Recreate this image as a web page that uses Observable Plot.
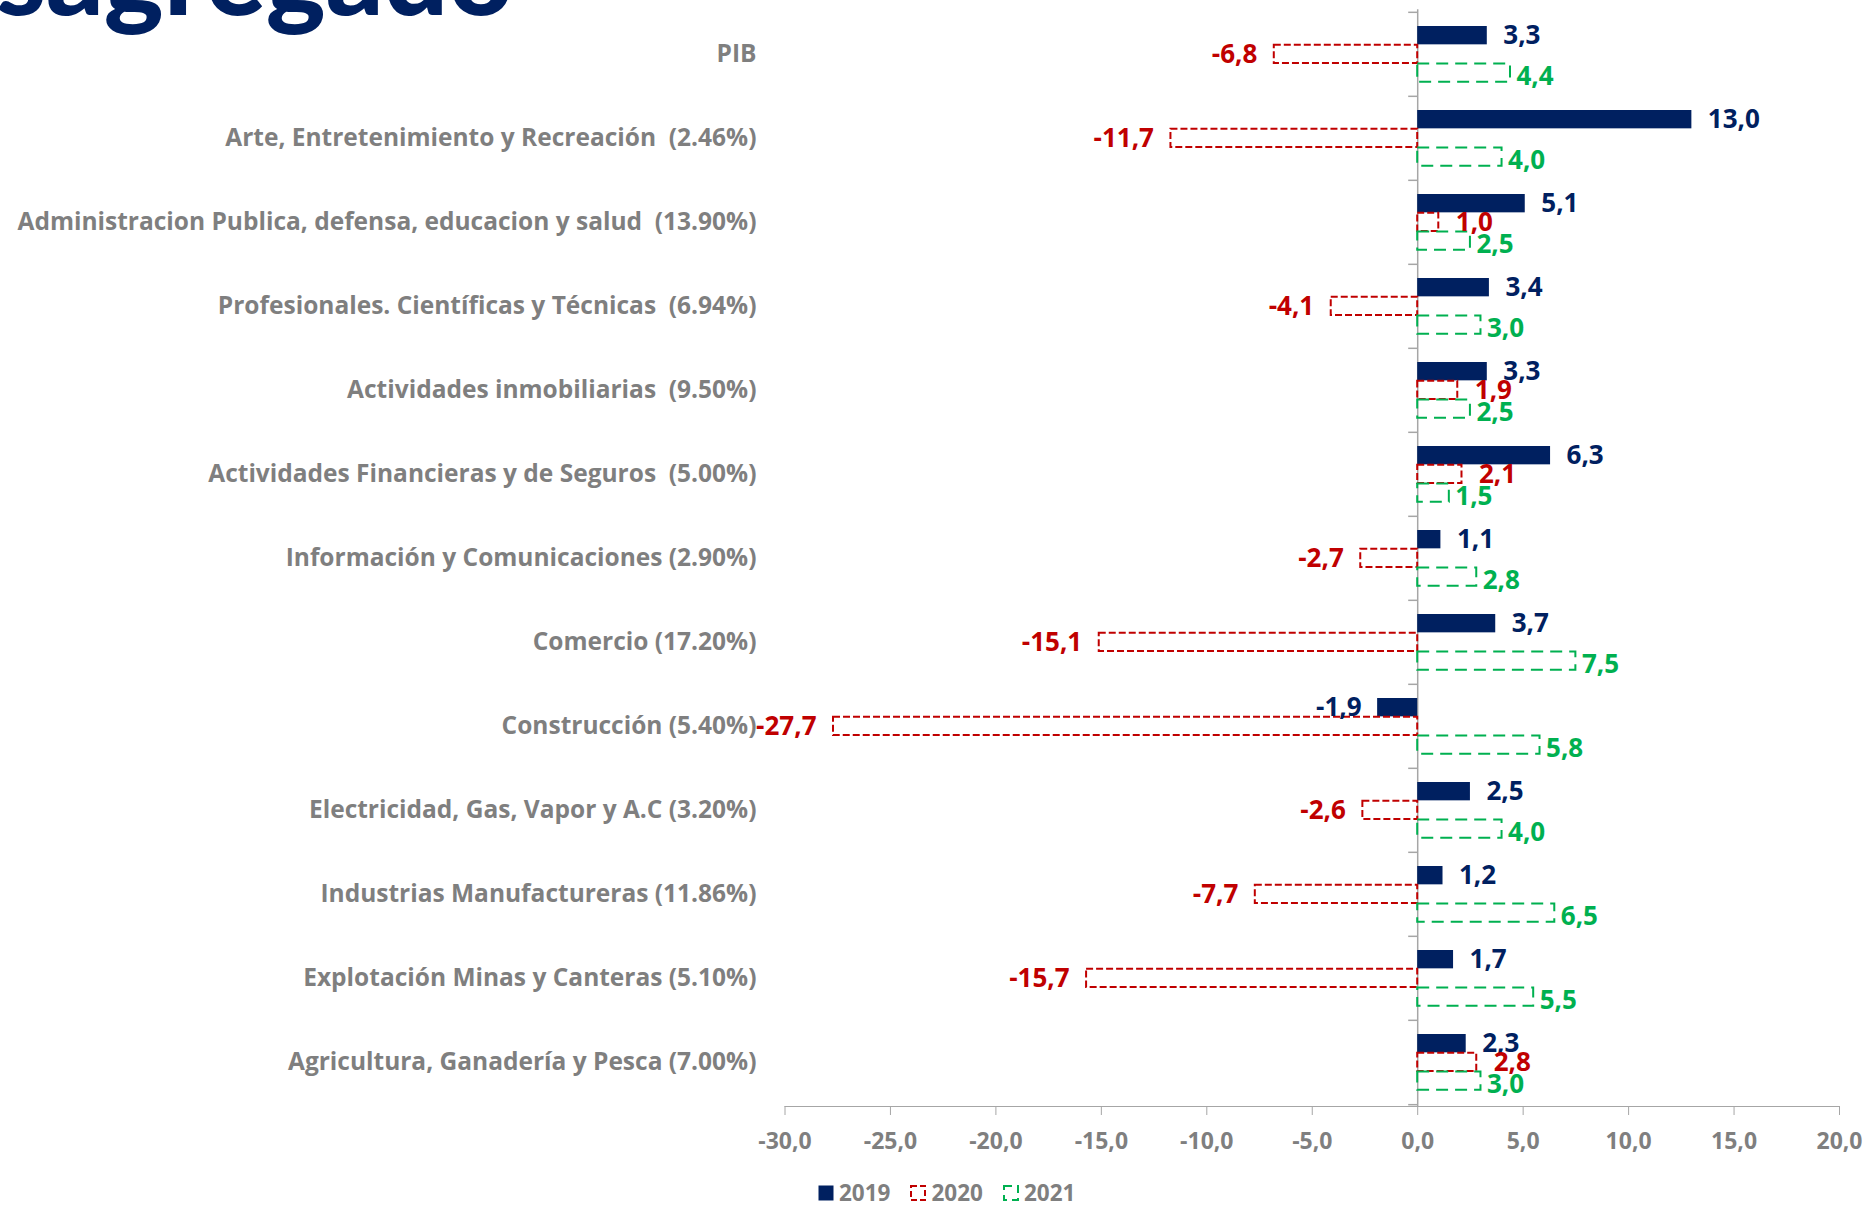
<!DOCTYPE html>
<html><head><meta charset="utf-8">
<script src="https://cdn.jsdelivr.net/npm/d3@7"></script>
<script src="https://cdn.jsdelivr.net/npm/@observablehq/plot@0.6"></script>
<style>
body{margin:0;background:#fff;width:1875px;height:1205px;overflow:hidden;position:relative;font-family:"Open Sans",sans-serif}
#chart svg text{white-space:pre}
#chart svg line, #chart svg path.domain, #chart svg g[aria-label*="axis"] path{stroke:#a6a6a6}
#chart svg g[aria-label^="y-axis"] text{font-size:24.5px}
#title{position:absolute;left:0;top:0}
#legend{position:absolute;left:818px;top:1181px;display:flex;align-items:center;font:700 22.5px "Open Sans",sans-serif;color:#7f7f7f;line-height:24px}
#legend .item{display:flex;align-items:center;margin-right:20px}
#legend svg{margin-right:5px}
</style></head><body>
<div id="chart"></div>
<svg id="title" width="620" height="60"><text x="-4" y="15" font-family="Lato" font-weight="900" font-size="113" fill="#002060">sagregado</text></svg>
<div id="legend"></div>
<script>
const categories = [
  "PIB",
  "Arte, Entretenimiento y Recreación  (2.46%)",
  "Administracion Publica, defensa, educacion y salud  (13.90%)",
  "Profesionales. Científicas y Técnicas  (6.94%)",
  "Actividades inmobiliarias  (9.50%)",
  "Actividades Financieras y de Seguros  (5.00%)",
  "Información y Comunicaciones (2.90%)",
  "Comercio (17.20%)",
  "Construcción (5.40%)",
  "Electricidad, Gas, Vapor y A.C (3.20%)",
  "Industrias Manufactureras (11.86%)",
  "Explotación Minas y Canteras (5.10%)",
  "Agricultura, Ganadería y Pesca (7.00%)"
];
const years = ["2019", "2020", "2021"];
const v2019 = [3.3, 13.0, 5.1, 3.4, 3.3, 6.3, 1.1, 3.7, -1.9, 2.5, 1.2, 1.7, 2.3];
const v2020 = [-6.8, -11.7, 1.0, -4.1, 1.9, 2.1, -2.7, -15.1, -27.7, -2.6, -7.7, -15.7, 2.8];
const v2021 = [4.4, 4.0, 2.5, 3.0, 2.5, 1.5, 2.8, 7.5, 5.8, 4.0, 6.5, 5.5, 3.0];
const xTicks = [-30, -25, -20, -15, -10, -5, 0, 5, 10, 15, 20];

const series = [v2019, v2020, v2021];
const rows = categories.flatMap((c, i) => years.map((y, j) => ({cat: c, year: y, value: series[j][i]})));

const W = 1875, H = 1160, mL = 784.5, mR = 36, mT = 9.3, mB = 54;
const step = (H - mT - mB) / categories.length;
const ppu = (W - mL - mR) / 50;
const barThick = 18.7, groupTop = 14;
const gray = "#a6a6a6";
const fmt = d => d.toFixed(1).replace(".", ",");

const styles = [
  {fill: "#002060", stroke: "none", dash: null, color: "#002060", dx: 16, extra: 0},
  {fill: "none", stroke: "#C00000", dash: "7,3", color: "#C00000", dx: 17, extra: 0},
  {fill: "none", stroke: "#00B050", dash: "12,7", color: "#00B050", dx: 6, extra: 4}
];

const marks = [
  Plot.ruleX([0], {stroke: gray, strokeWidth: 1.5}),
  Plot.ruleY(categories, {y: d => d, x1: () => 0, x2: () => -9 / ppu, dy: -step / 2, stroke: gray, strokeWidth: 1.5}),
  Plot.ruleY([categories[categories.length - 1]], {y: d => d, x1: () => 0, x2: () => -9 / ppu, dy: step / 2, stroke: gray, strokeWidth: 1.5})
];

years.forEach((yr, j) => {
  const s = styles[j];
  const data = rows.filter(r => r.year === yr);
  marks.push(Plot.barX(data, {
    y: "cat", x1: () => 0, x2: "value",
    insetTop: groupTop + j * barThick,
    insetBottom: step - groupTop - (j + 1) * barThick,
    fill: s.fill, stroke: s.stroke, strokeWidth: s.dash ? 2 : 0,
    strokeDasharray: s.dash || undefined
  }));
});
years.forEach((yr, j) => {
  const s = styles[j];
  const data = rows.filter(r => r.year === yr);
  const dy = groupTop + (j + 0.5) * barThick - step / 2 + s.extra;
  marks.push(Plot.text(data.filter(d => d.value >= 0), {
    y: "cat", x: "value", text: d => fmt(d.value), dx: s.dx, dy,
    textAnchor: "start", fill: s.color, fontSize: 26, fontWeight: "bold"
  }));
  marks.push(Plot.text(data.filter(d => d.value < 0), {
    y: "cat", x: "value", text: d => fmt(d.value), dx: -s.dx, dy,
    textAnchor: "end", fill: s.color, fontSize: 26, fontWeight: "bold"
  }));
});

const chart = Plot.plot({
  width: W, height: H,
  marginLeft: mL, marginRight: mR, marginTop: mT, marginBottom: mB,
  x: {domain: [-30, 20], ticks: xTicks, tickFormat: fmt, tickSize: 9, tickPadding: 17, line: true, label: null},
  y: {domain: categories, padding: 0, tickSize: 0, tickPadding: 28.5, label: null},
  style: {fontFamily: "'Open Sans', sans-serif", fontSize: "23px", fontWeight: 700, color: "#7f7f7f", background: "white", overflow: "visible"},
  marks
});
document.getElementById("chart").appendChild(chart);

// legend
const legend = document.getElementById("legend");
years.forEach((yr, j) => {
  const s = styles[j];
  const item = document.createElement("div");
  item.className = "item";
  const sw = j === 0
    ? `<svg width="16" height="16"><rect x="0.5" y="0.5" width="15" height="15" fill="${s.fill}"/></svg>`
    : `<svg width="16" height="16"><rect x="1" y="1" width="14" height="14" fill="none" stroke="${s.stroke}" stroke-width="2" stroke-dasharray="${j === 1 ? '6,3' : '8,5'}"/></svg>`;
  item.innerHTML = sw + `<span>${yr}</span>`;
  legend.appendChild(item);
});
</script>
</body></html>
